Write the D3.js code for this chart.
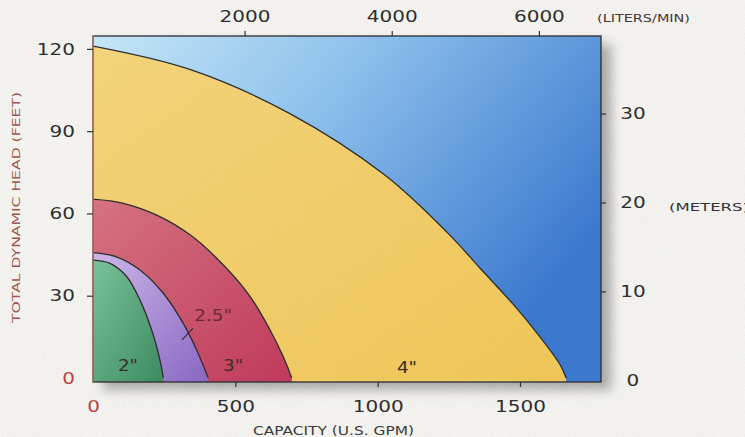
<!DOCTYPE html>
<html><head><meta charset="utf-8">
<script src="https://cdn.jsdelivr.net/npm/d3@7"></script>
<style>
body{margin:0;background:#f4f3ef;}
svg{display:block}
</style>
</head><body>
<svg id="chart" width="745" height="437"></svg>
<script>
// ---- data ----
const flow4  = [0, 340, 690, 1025, 1245, 1360, 1475, 1570, 1640, 1662];
const head4  = [121, 112.5, 96.5, 74, 53, 40, 27, 15, 5, 0];
const flow3  = [0, 106, 224, 341, 458, 552, 622, 668, 698];
const head3  = [65.2, 63.7, 59.4, 52.2, 41.2, 29.7, 17.5, 7.8, 0];
const flow25 = [0, 82, 165, 247, 317, 364, 405];
const head25 = [45.7, 44.2, 39.4, 30.9, 19.9, 10.2, 0];
const flow2  = [0, 60, 118, 165, 206, 235, 247];
const head2  = [43, 41.8, 37, 28.4, 17.5, 6.6, 0];
const sizeNames  = ['4"', '3"', '2.5"', '2"'];
const labelFlow  = [1103, 492, 422, 123];
const labelHead  = [4, 4.7, 23, 4.7];
const gpmTicks   = [0, 500, 1000, 1500];
const lpmTicks   = [2000, 4000, 6000];
const feetTicks  = [0, 30, 60, 90, 120];
const meterTicks = [0, 10, 20, 30];

// ---- layout ----
const L = 93, T = 36, R = 601, B = 382;
const svg = d3.select('#chart');
const x  = d3.scaleLinear().domain([0, 1784.5]).range([L, R]);
const xL = d3.scaleLinear().domain([-60, 6844]).range([L, R]);
const y  = d3.scaleLinear().domain([-1.46, 124.7]).range([B, T]);
const yM = d3.scaleLinear().domain([-0.19, 38.73]).range([B, T]);

const defs = svg.append('defs');
function grad(id, x2, y2, stops){
  const g = defs.append('linearGradient').attr('id', id)
    .attr('x1',0).attr('y1',0).attr('x2',x2).attr('y2',y2);
  stops.forEach(s => g.append('stop').attr('offset', s[0]).attr('stop-color', s[1]));
}
grad('gBlue', 1, 0.55, [[0,'#c6e8f8'],[0.4,'#90c4ee'],[1,'#3a78cf']]);
grad('gYel', 1, 1, [[0,'#f4d47a'],[1,'#f0c656']]);
grad('gRed', 1, 1, [[0,'#d6727f'],[1,'#c0385a']]);
grad('gPur', 1, 1, [[0,'#cdb7ea'],[1,'#8966c4']]);
grad('gGrn', 1, 1, [[0,'#79c39a'],[1,'#3b8a5f']]);
const blur = defs.append('filter').attr('id','sh').attr('x','-20%').attr('y','-20%').attr('width','140%').attr('height','140%');
blur.append('feGaussianBlur').attr('stdDeviation', 6);
const noise = defs.append('filter').attr('id','noise').attr('x',0).attr('y',0).attr('width','100%').attr('height','100%');
noise.append('feTurbulence').attr('type','fractalNoise').attr('baseFrequency',0.85).attr('numOctaves',2).attr('seed',3);
noise.append('feColorMatrix').attr('type','matrix')
  .attr('values','0 0 0 0 0.35  0 0 0 0 0.35  0 0 0 0 0.35  0 0 0 -1.6 0.95');
defs.append('clipPath').attr('id','clip').append('rect')
  .attr('x',L).attr('y',T).attr('width',R-L).attr('height',B-T);

// shadow
svg.append('rect').attr('x', L+10).attr('y', T+8).attr('width', R-L).attr('height', B-T)
  .attr('fill', '#777').attr('opacity', 0.6).attr('filter','url(#sh)');

const plot = svg.append('g').attr('clip-path','url(#clip)');
plot.append('rect').attr('x',L).attr('y',T).attr('width',R-L).attr('height',B-T).attr('fill','url(#gBlue)');

const series = [
  {f: flow4,  h: head4,  fill: 'url(#gYel)'},
  {f: flow3,  h: head3,  fill: 'url(#gRed)'},
  {f: flow25, h: head25, fill: 'url(#gPur)'},
  {f: flow2,  h: head2,  fill: 'url(#gGrn)'}
];
const crv = d3.curveCatmullRom.alpha(0.5);
const area = d3.area().x(d => x(d[0])).y0(y(y.domain()[0])).y1(d => y(d[1])).curve(crv);
const line = d3.line().x(d => x(d[0])).y(d => y(d[1])).curve(crv);
series.forEach(s => {
  const pts = s.f.map((v,i) => [v, s.h[i]]);
  plot.append('path').attr('d', area(pts)).attr('fill', s.fill);
  plot.append('path').attr('d', line(pts)).attr('fill','none').attr('stroke','#2b2b2b').attr('stroke-width',1.3);
});

// paper texture
svg.append('rect').attr('width',745).attr('height',437).attr('filter','url(#noise)').attr('opacity',0.12);

// plot border
svg.append('rect').attr('x',L).attr('y',T).attr('width',R-L).attr('height',B-T)
  .attr('fill','none').attr('stroke','#2c2c34').attr('stroke-width',1.3);
svg.append('line').attr('x1',L).attr('x2',L).attr('y1',T).attr('y2',B)
  .attr('stroke','#c27a6a').attr('stroke-width',1.3);

// size labels
const FONT = 'DejaVu Sans, sans-serif';
sizeNames.forEach((n,i) => {
  const cx = x(labelFlow[i]);
  svg.append('text').attr('x', cx).attr('y', y(labelHead[i]))
    .attr('text-anchor','middle').attr('dy','0.36em')
    .attr('font-family', FONT).attr('font-size', 16)
    .attr('fill', n === '2.5"' ? '#6a2a34' : '#3a3026')
    .attr('transform', `translate(${cx},0) scale(1.15,1) translate(${-cx},0)`)
    .text(n);
});
// leader line for 2.5"
svg.append('line').attr('x1', x(313)).attr('y1', y(13.9)).attr('x2', x(351)).attr('y2', y(18.2))
  .attr('stroke','#3a2a40').attr('stroke-width',1.2);

// ---- axes ----
const SX = 1.25;
function styleAxis(g){
  g.select('.domain').remove();
  g.selectAll('text').attr('font-family', FONT).attr('font-size', 16).attr('fill','#2e2e2e');
  g.selectAll('line').attr('stroke','#333').attr('stroke-width',1.2);
}
const gB = svg.append('g').attr('transform',`translate(0,${B})`)
  .call(d3.axisBottom(x).tickValues(gpmTicks).tickFormat(d3.format('d')).tickSize(5).tickPadding(14));
styleAxis(gB);
gB.selectAll('text').attr('transform',`scale(${SX},1)`);

const gT = svg.append('g').attr('transform',`translate(0,${T})`)
  .call(d3.axisTop(xL).tickValues(lpmTicks).tickFormat(d3.format('d')).tickSize(5).tickPadding(9));
styleAxis(gT);
gT.selectAll('text').attr('transform',`scale(${SX},1)`);

const gLf = svg.append('g').attr('transform',`translate(${L},0)`)
  .call(d3.axisLeft(y).tickValues(feetTicks).tickSize(6));
styleAxis(gLf);
gLf.selectAll('text').attr('transform',`scale(${SX},1)`).attr('x', -18/SX);

const gR = svg.append('g').attr('transform',`translate(${R},0)`)
  .call(d3.axisRight(yM).tickValues(meterTicks).tickSize(5));
styleAxis(gR);
gR.selectAll('text').attr('transform',`scale(${SX},1)`).attr('text-anchor','middle').attr('x', 32/SX);

// zero labels in red, no tick mark at zero
[gB, gLf, gR].forEach(g => g.selectAll('.tick').filter(d => d === 0).select('line').remove());
gB.selectAll('.tick').filter(d => d === 0).select('text').attr('fill','#b4473f');
gLf.selectAll('.tick').filter(d => d === 0).select('text').attr('fill','#b4473f');

// ---- titles ----
svg.append('text').attr('transform','translate(19.5,207.5) rotate(-90)')
  .attr('text-anchor','middle').attr('font-family',FONT).attr('font-size',10.5)
  .attr('fill','#a2544c').attr('textLength',231).attr('lengthAdjust','spacingAndGlyphs')
  .text('TOTAL DYNAMIC HEAD (FEET)');
svg.append('text').attr('x',333.5).attr('y',434.5)
  .attr('text-anchor','middle').attr('font-family',FONT).attr('font-size',11.5)
  .attr('fill','#3a3a3a').attr('textLength',161).attr('lengthAdjust','spacingAndGlyphs')
  .text('CAPACITY (U.S. GPM)');
svg.append('text').attr('x',597).attr('y',22)
  .attr('font-family',FONT).attr('font-size',11)
  .attr('fill','#4a3636').attr('textLength',93).attr('lengthAdjust','spacingAndGlyphs')
  .text('(LITERS/MIN)');
svg.append('text').attr('x',669).attr('y',211)
  .attr('font-family',FONT).attr('font-size',11)
  .attr('fill','#333').attr('textLength',80).attr('lengthAdjust','spacingAndGlyphs')
  .text('(METERS)');
</script>
</body></html>
